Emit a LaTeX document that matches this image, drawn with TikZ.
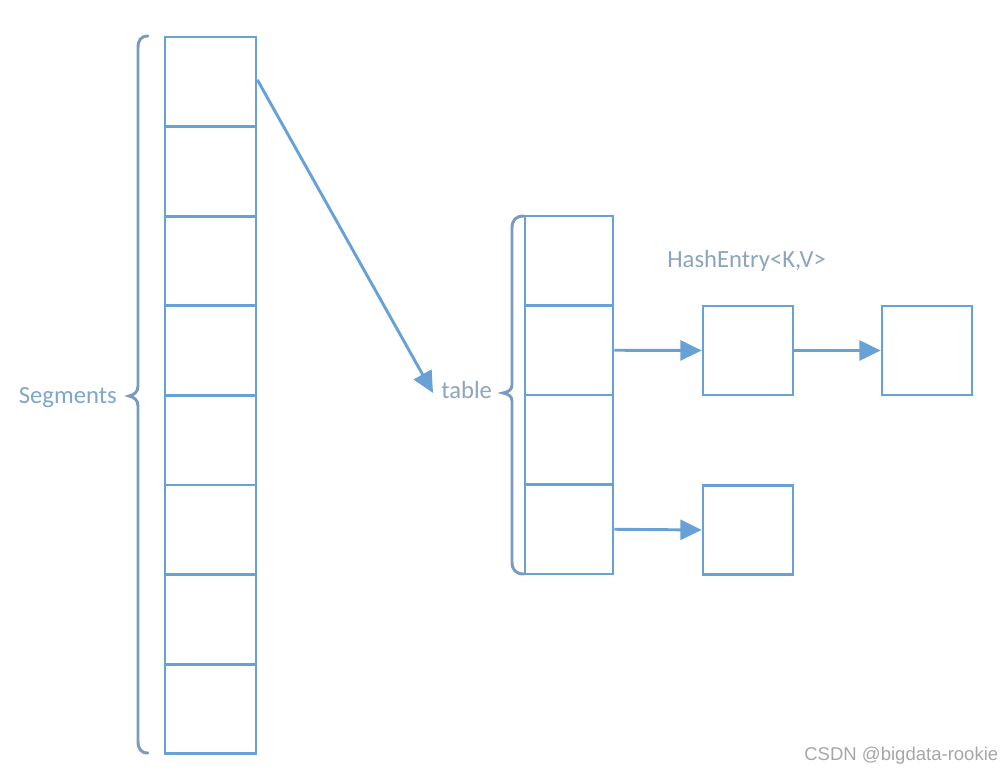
\documentclass[tikz,border=0pt]{standalone}
\usepackage{fontspec}
\setmainfont{Carlito}
\newfontfamily\wmfont{Liberation Sans}
\usetikzlibrary{arrows.meta}
\definecolor{boxblue}{RGB}{104,161,214}
\definecolor{bracegray}{RGB}{122,155,190}
\definecolor{labelblue}{RGB}{128,166,200}
\definecolor{entrygray}{RGB}{140,164,190}

\begin{document}
\begin{tikzpicture}[x=0.75pt,y=-0.75pt,line width=2pt,>={Triangle[length=16pt,width=15pt]},
  seg/.style={draw=boxblue,minimum width=68.25pt,minimum height=67.2pt,inner sep=0pt},
  tab/.style={draw=boxblue,minimum width=66pt,minimum height=67.1pt,inner sep=0pt},
  entry/.style={draw=boxblue,minimum width=67.5pt,minimum height=66.8pt,inner sep=0pt},
  lbl/.style={inner sep=0pt,font=\fontsize{18.5}{22}\selectfont},
  brc/.style={draw=bracegray,line width=2.2pt,line cap=round},
  link/.style={->,draw=boxblue,fill=boxblue,line width=2.2pt}]
\useasboundingbox (0,0) rectangle (1003,774);
% Segments 数组
\foreach \i in {0,...,7}
  \node[seg] (s\i) at (210.5,{81.8+89.6*\i}) {};
% table 数组
\foreach \i in {0,...,3}
  \node[tab] (t\i) at (569,{260.75+89.5*\i}) {};
% HashEntry 链表
\node[entry] (h1) at (748,350.5) {};
\node[entry] (h2) at (927,350.5) {};
\node[entry] (h3) at (748,530) {};
% 标签
\node[lbl,text=labelblue,anchor=base east] (seglbl) at (118,403) {Segments};
\node[lbl,text=entrygray,anchor=base west] (tablbl) at (440,398) {table};
\node[lbl,text=entrygray,anchor=base west] (entlbl) at (666,267) {HashEntry<K,V>};
% 花括号
\draw[brc] (148,36) .. controls (141,36) and (138,40) .. (138,48) -- (138,386)
  .. controls (138,392) and (134,395) .. (129,396) .. controls (134,397) and (138,400) .. (138,406)
  -- (138,741) .. controls (138,749) and (141,753) .. (148,753);
\draw[brc] (524,216) .. controls (516,216) and (512,220) .. (512,228) -- (512,385)
  .. controls (512,390) and (508,392) .. (503,393) .. controls (508,394) and (512,396) .. (512,401)
  -- (512,562) .. controls (512,570) and (516,574) .. (524,574);
% 指针
\coordinate (tip) at (433,393);
\draw[link] (s0.east) ++(0,-2) -- (tip);
\draw[link] (t1.east) -- (h1.west);
\draw[link] (h1.east) -- (h2.west);
\draw[link] (t3.east) -- (h3.west);
% 水印
\node[inner sep=0pt,anchor=base west,text=black!35,font=\wmfont\fontsize{13.9}{16}\selectfont] (wm) at (803,760) {CSDN @bigdata-rookie};
\end{tikzpicture}
\end{document}
